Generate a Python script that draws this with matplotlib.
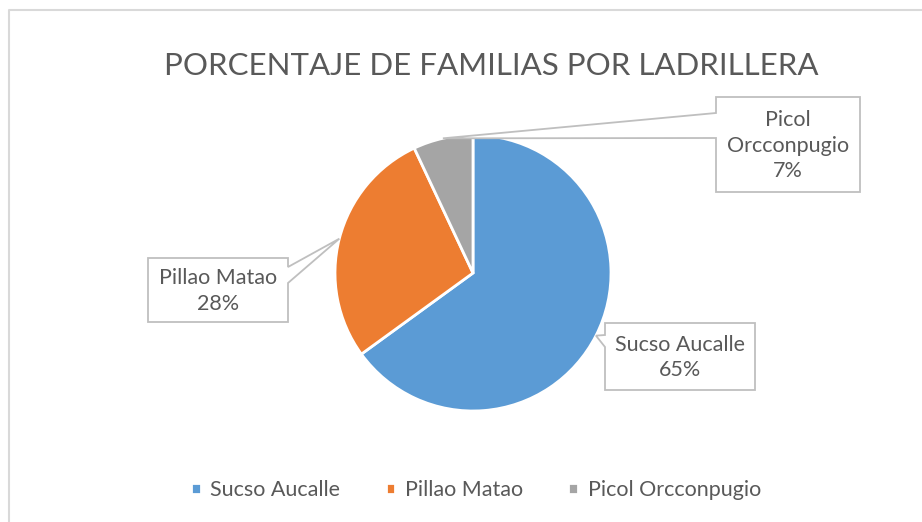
import numpy as np
import matplotlib
matplotlib.use("Agg")
import matplotlib.pyplot as plt
from matplotlib.patches import Polygon

categories = ["Sucso Aucalle", "Pillao Matao", "Picol Orcconpugio"]
values = [65, 28, 7]
box_labels = ["Sucso Aucalle\n65%", "Pillao Matao\n28%", "Picol\nOrcconpugio\n7%"]
colors = ["#5B9BD5", "#ED7D31", "#A5A5A5"]
title = "PORCENTAJE DE FAMILIAS POR LADRILLERA"

W, H = 922, 522
plt.rcParams['font.family'] = ['Lato', 'DejaVu Sans']
TXT = "#595959"
EDGE = "#BFBFBF"

fig = plt.figure(figsize=(W / 100, H / 100), dpi=100)
ax = fig.add_axes([0, 0, 1, 1])
ax.set_xlim(0, W)
ax.set_ylim(0, H)
ax.set_aspect('equal')
ax.axis('off')

def Y(y):  # convert top-down pixel to data
    return H - y

# chart frame
ax.plot([9, 9, W + 5], [-5, Y(9.5), Y(9.5)], color="#D9D9D9", lw=1.5, clip_on=False)

cx, cy, R = 473, Y(273), 138
wedges, _ = ax.pie(values, colors=colors, startangle=90, counterclock=False,
                   center=(cx, cy), radius=R, frame=True,
                   wedgeprops=dict(edgecolor="white", linewidth=2))
ax.set_xlim(0, W)
ax.set_ylim(0, H)
ax.axis('off')

# callout boxes: (left, top, right, bottom), pointer side, pointer span
boxes = [
    ((605, 323, 755, 390), 'left', (335, 347)),
    ((148, 258, 288, 322), 'right', (267, 283)),
    ((716, 97, 860, 192), 'left', (113, 138)),
]
for w, lab, (box, side, span) in zip(wedges, box_labels, boxes):
    mid = np.deg2rad((w.theta1 + w.theta2) / 2)
    tx, ty = cx + R * np.cos(mid), cy + R * np.sin(mid)
    l, t, r, b = box
    if side == 'left':
        pts = [(l, Y(t)), (r, Y(t)), (r, Y(b)), (l, Y(b)), (l, Y(span[1])), (tx, ty), (l, Y(span[0]))]
    else:
        pts = [(l, Y(t)), (r, Y(t)), (r, Y(span[0])), (tx, ty), (r, Y(span[1])), (r, Y(b)), (l, Y(b))]
    ax.add_patch(Polygon(pts, closed=True, facecolor="white", edgecolor=EDGE, lw=1.3, zorder=5))
    ax.text((l + r) / 2, Y((t + b) / 2 + 1), lab, ha='center', va='center', color=TXT,
            fontsize=15.5, linespacing=1.35, zorder=6)

ax.text(491, Y(66), title, ha='center', va='center', color=TXT, fontsize=22.5)

leg = ax.legend(wedges, categories, loc='center', bbox_to_anchor=(476 / W, 1 - 490 / H),
                ncol=3, frameon=False, fontsize=15.5, handlelength=0.45, handleheight=0.45,
                handletextpad=0.45, columnspacing=2.1, labelcolor=TXT)

fig.savefig("out.png", dpi=100)
